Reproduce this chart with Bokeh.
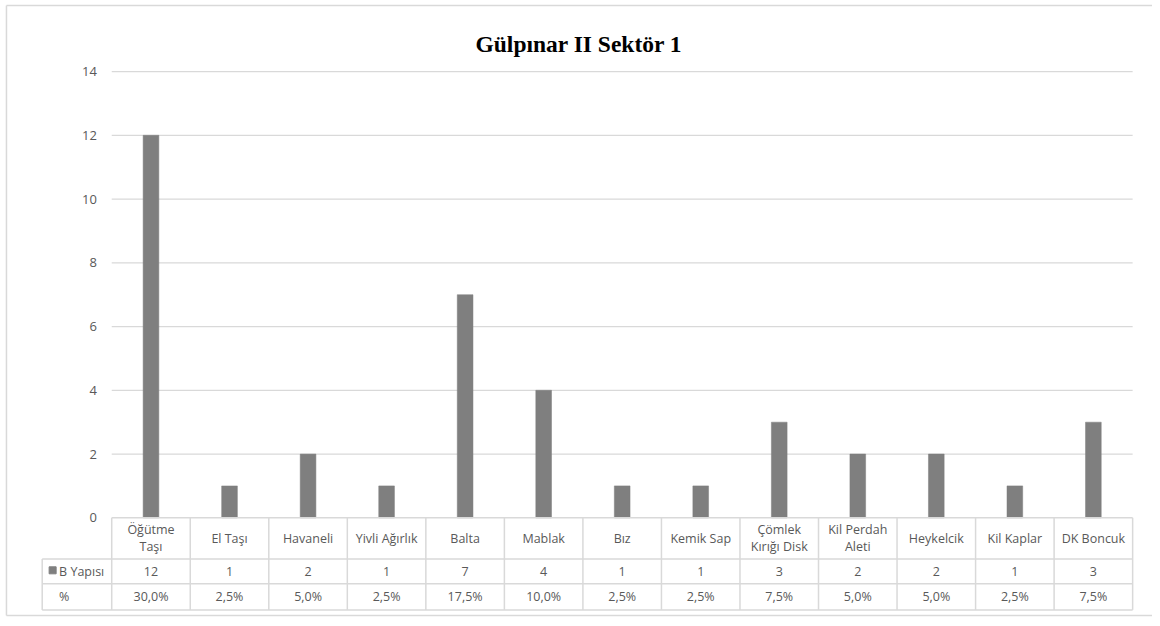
from bokeh.plotting import figure
from bokeh.models import Range1d
from bokeh.core.properties import value
from bokeh.embed import file_html
from bokeh.resources import INLINE

# ---------------- data ----------------
title_text = "Gülpınar II Sektör 1"
categories = ["Öğütme\nTaşı", "El Taşı", "Havaneli", "Yivli Ağırlık", "Balta", "Mablak",
              "Bız", "Kemik Sap", "Çömlek\nKırığı Disk", "Kil Perdah\nAleti", "Heykelcik",
              "Kil Kaplar", "DK Boncuk"]
counts = [12, 1, 2, 1, 7, 4, 1, 1, 3, 2, 2, 1, 3]
percents = ["30,0%", "2,5%", "5,0%", "2,5%", "17,5%", "10,0%", "2,5%", "2,5%",
            "7,5%", "5,0%", "5,0%", "2,5%", "7,5%"]
series_name = "B Yapısı"
pct_row_label = "%"
y_ticks = [0, 2, 4, 6, 8, 10, 12, 14]

# ---------------- layout ----------------
# layout positions are given in a 1160x626 design space, scaled into the figure
W, H = 1152, 618
DW, DH = 1160.0, 626.0
SX, SY = W / DW, H / DH
PLOT_LEFT, PLOT_RIGHT = 112.0, 1140.0
ZERO_Y, TOP_Y = 524.0, 72.0
ROW1, ROW2, ROW3 = 565.7, 590.7, 617.3
LEG_LEFT = 42.0
BORDER_L, BORDER_T, BORDER_B = 6.0, 5.0, 623.0
n = len(categories)
COL_W = (PLOT_RIGHT - PLOT_LEFT) / n
UNIT = (ZERO_Y - TOP_Y) / max(y_ticks)


def X(px):
    return (px - PLOT_LEFT) / COL_W


def Y(py):
    return (ZERO_Y - py) / UNIT


GRID = "#d9d9d9"
TXT = "#595959"
BAR = "#7f7f7f"
FONT = value("Open Sans")

p = figure(width=W, height=H, x_range=Range1d(X(0), X(DW)), y_range=Range1d(Y(DH), Y(0)),
           output_backend="svg", toolbar_location=None,
           x_axis_location=None, y_axis_location=None, min_border=0,
           outline_line_color=None, background_fill_color="white",
           border_fill_color="white")
p.grid.visible = False

# outer chart border (top, left, bottom)
p.segment(x0=[X(BORDER_L), X(BORDER_L), X(BORDER_L)],
          y0=[Y(BORDER_T), Y(BORDER_T), Y(BORDER_B)],
          x1=[X(DW), X(BORDER_L), X(DW)],
          y1=[Y(BORDER_T), Y(BORDER_B), Y(BORDER_B)],
          line_color=GRID, line_width=1.5)

# horizontal gridlines
gy = [t for t in y_ticks if t > 0]
p.segment(x0=[0] * len(gy), y0=gy, x1=[n] * len(gy), y1=gy, line_color=GRID, line_width=1.2)

# bars
xs = [i + 0.5 for i in range(n)]
p.vbar(x=xs, top=counts, bottom=0, width=0.2, fill_color=BAR, line_color=BAR, line_width=0.5)

# y tick labels
p.text(x=[X(97)] * len(y_ticks), y=y_ticks, text=[str(t) for t in y_ticks],
       text_align="right", text_baseline="middle", text_color=TXT,
       text_font=FONT, text_font_size="13px")

# data table lines
hx0 = [0, X(LEG_LEFT), X(LEG_LEFT), X(LEG_LEFT)]
hy = [0, Y(ROW1), Y(ROW2), Y(ROW3)]
p.segment(x0=hx0, y0=hy, x1=[n] * 4, y1=hy, line_color=GRID, line_width=1.5)
vx = list(range(n + 1))
p.segment(x0=vx, y0=[0] * len(vx), x1=vx, y1=[Y(ROW3)] * len(vx), line_color=GRID, line_width=1.5)
p.segment(x0=[X(LEG_LEFT)], y0=[Y(ROW1)], x1=[X(LEG_LEFT)], y1=[Y(ROW3)],
          line_color=GRID, line_width=1.5)

# table texts
p.text(x=xs, y=[Y((ZERO_Y + ROW1) / 2)] * n, text=categories, text_align="center",
       text_baseline="middle", text_color=TXT, text_font=FONT, text_font_size="12.5px",
       text_line_height=1.0)
p.text(x=xs, y=[Y((ROW1 + ROW2) / 2)] * n, text=[str(c) for c in counts], text_align="center",
       text_baseline="middle", text_color=TXT, text_font=FONT, text_font_size="12.5px")
p.text(x=xs, y=[Y((ROW2 + ROW3) / 2)] * n, text=percents, text_align="center",
       text_baseline="middle", text_color=TXT, text_font=FONT, text_font_size="12.5px")

# legend key + row labels
p.scatter(x=[X(52.5)], y=[Y((ROW1 + ROW2) / 2 - 1)], marker="square", size=7,
          fill_color=BAR, line_color=BAR)
p.text(x=[X(59), X(59)], y=[Y((ROW1 + ROW2) / 2), Y((ROW2 + ROW3) / 2)],
       text=[series_name, pct_row_label], text_align="left", text_baseline="middle",
       text_color=TXT, text_font=FONT, text_font_size="12.5px")

# title
p.text(x=[X(582.5)], y=[Y(44)], text=[title_text], text_align="center",
       text_baseline="alphabetic", text_color="black", text_font=value("Liberation Serif"),
       text_font_style="bold", text_font_size="23.5px")

open("out.html", "w").write(file_html(p, INLINE))
